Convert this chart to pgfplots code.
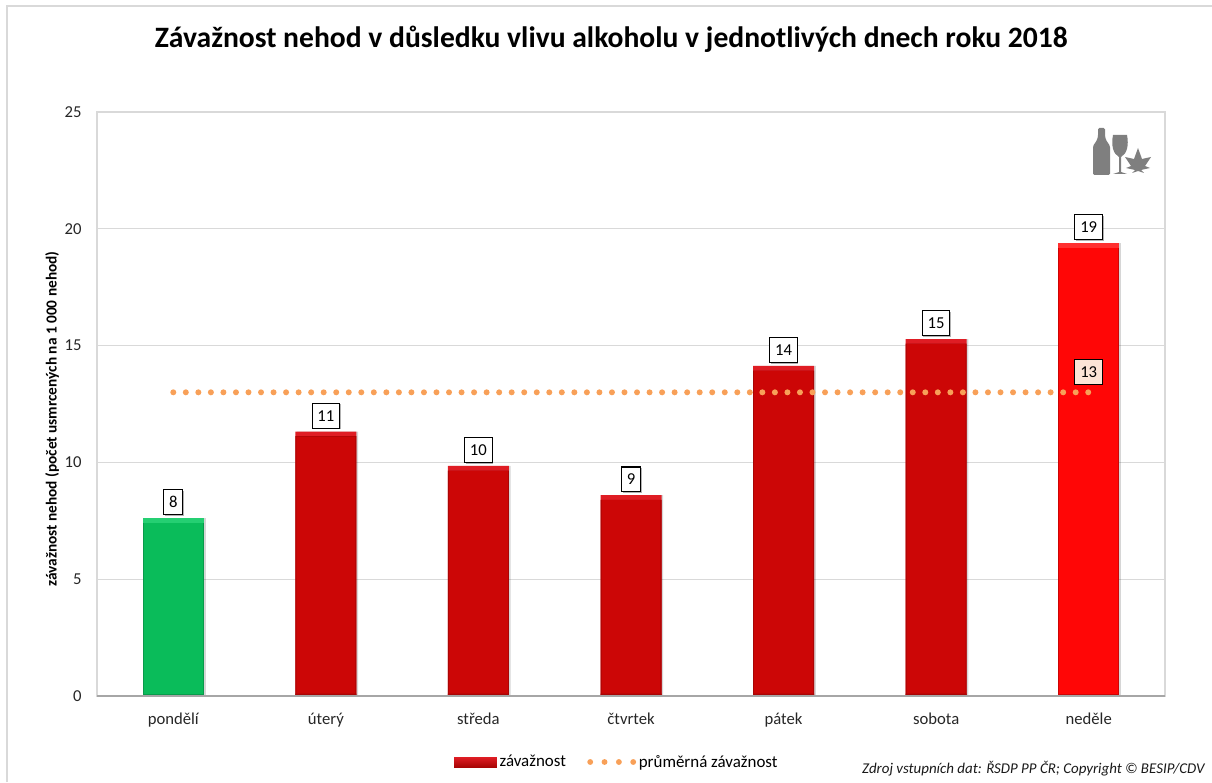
\documentclass[border=0pt]{standalone}
\usepackage{fontspec}
\setmainfont{Carlito}
\usepackage{pgfplots}
\pgfplotsset{compat=1.18}
\usepackage{pgfplotstable}
\usetikzlibrary{shadows}
\definecolor{gridc}{HTML}{D9D9D9}
\definecolor{framec}{HTML}{D9D9D9}
\definecolor{basec}{HTML}{A6A6A6}
\definecolor{redm}{HTML}{CC0606}
\definecolor{redl}{HTML}{DF1D24}
\definecolor{redd}{HTML}{A80505}
\definecolor{brightm}{HTML}{FF0606}
\definecolor{brightl}{HTML}{FF3030}
\definecolor{brightd}{HTML}{CC0505}
\definecolor{greenm}{HTML}{0ABC5A}
\definecolor{greenl}{HTML}{25CF72}
\definecolor{greend}{HTML}{099A4B}
\definecolor{dotc}{HTML}{F79646}
\definecolor{peach}{HTML}{FCE4D6}
\definecolor{iconc}{HTML}{7F7F7F}
\pgfplotstableread{
x v
0 7.62
}\greentab
\pgfplotstableread{
x v
1 11.32
2 9.85
3 8.6
4 14.13
5 15.28
}\redtab
\pgfplotstableread{
x v
6 19.39
}\brighttab
\newcommand{\bevelbar}[4]{%
  \addplot[ybar,bar shift=1.3pt,bar width=45.75pt,draw=none,fill=black,fill opacity=0.16,forget plot] table[x=x,y=v] {#1};
  \addplot[ybar,bar shift=0pt,bar width=45.75pt,draw=none,fill=#3,forget plot] table[x=x,y=v] {#1};
  \addplot[ybar,bar shift=0pt,bar width=45.75pt,draw=none,fill=#4,forget plot] table[x=x,y expr=\thisrow{v}-0.2] {#1};
  \addplot[ybar,bar shift=0pt,bar width=44.2pt,draw=none,fill=#2,forget plot] table[x=x,y expr=\thisrow{v}-0.22] {#1};
  \addplot[ybar,bar shift=0pt,bar width=45.75pt,draw=none,fill=#4,forget plot] table[x=x,y expr=0.1] {#1};
}
\begin{document}
\begin{tikzpicture}
\useasboundingbox (0,0) rectangle (909pt,586.5pt);
\begin{scope}[x=0.75pt,y=-0.75pt,yshift=586.5pt]
\draw[framec,line width=0.9pt] (7,782) -- (7,6) -- (1212,6);
\end{scope}
\begin{axis}[
  at={(72.75pt,64.5pt)},anchor=south west,
  width=801pt,height=438pt,scale only axis,
  xmin=-0.5,xmax=6.5,ymin=0,ymax=25,
  xtick={0,...,6},
  xticklabels={pondělí,úterý,středa,čtvrtek,pátek,sobota,neděle},
  ytick={0,5,...,25},
  major tick length=0pt,
  ymajorgrids,
  grid style={gridc,line width=0.75pt},
  axis line style={gridc,line width=0.9pt},
  /pgf/number format/assume math mode=true,
  tick label style={font=\fontsize{12.5}{15}\selectfont,text=black!85},
  xticklabel style={yshift=-9.5pt},
  yticklabel style={xshift=-8pt},
  title={Závažnost nehod v důsledku vlivu alkoholu v jednotlivých dnech roku 2018},
  title style={font=\fontsize{22.2}{26}\selectfont\bfseries,at={(0.4815,1)},anchor=center,yshift=48.8pt},
  ylabel={závažnost nehod (počet usmrcených na 1 000 nehod)},
  ylabel style={font=\fontsize{11.5}{13}\selectfont\bfseries,at={(axis description cs:-0.042,0.474)},anchor=center},
  legend style={at={(axis description cs:0.3305,-0.113)},anchor=west,draw=none,fill=none,
    legend columns=2,font=\fontsize{12.7}{15}\selectfont,/tikz/column 2/.style={column sep=14pt}},
  legend cell align=left,
  clip=false,
]
\bevelbar{\greentab}{greenm}{greenl}{greend}
\bevelbar{\redtab}{redm}{redl}{redd}
\bevelbar{\brighttab}{brightm}{brightl}{brightd}
\addlegendimage{legend image code/.code={
  \shade[top color=redl,bottom color=redd,draw=none] (0pt,-3.75pt) rectangle (32pt,3.75pt);}}
\addlegendentry{závažnost}
\addplot[dotc!90!white,line width=4.5pt,line cap=round,dash pattern=on 0pt off 9.4pt,
  legend image code/.code={
    \foreach \k in {0,10.75,21.5,32.25}{\fill[dotc!90!white,draw=none] (\k pt,0pt) circle (2.2pt);}}]
  coordinates {(0,13) (1,13) (2,13) (3,13) (4,13) (5,13) (6,13)};
\addlegendentry{průměrná závažnost}
\draw[basec,line width=1pt] (axis cs:-0.5,0) -- (axis cs:6.5,0);
\addplot[draw=none,mark=none,forget plot,point meta=explicit symbolic,
  nodes near coords,
  every node near coord/.style={font=\fontsize{12.5}{15}\selectfont,text=black,draw=black,line width=0.8pt,fill=white,
    anchor=south,inner xsep=4pt,inner ysep=0pt,minimum height=18.5pt,yshift=2.2pt,
    drop shadow={shadow xshift=0.8pt,shadow yshift=-0.8pt,opacity=0.3,fill=black}}]
  coordinates {(0,7.62)[8] (1,11.32)[11] (2,9.85)[10] (3,8.6)[9] (4,14.13)[14] (5,15.28)[15] (6,19.39)[19]};
\addplot[draw=none,mark=none,forget plot,point meta=explicit symbolic,
  nodes near coords,
  every node near coord/.style={font=\fontsize{12.5}{15}\selectfont,text=black,draw=black,line width=0.8pt,fill=peach,
    anchor=south,inner xsep=4pt,inner ysep=0pt,minimum height=18.5pt,yshift=5.8pt}]
  coordinates {(6,13)[13]};
\end{axis}
\begin{scope}[x=0.75pt,y=-0.75pt,yshift=586.5pt]
\node[anchor=east,inner sep=0pt,font=\fontsize{11.2}{13}\selectfont\itshape,text=black!90] at (1205,769)
  {Zdroj vstupních dat: ŘSDP PP ČR; Copyright © BESIP/CDV};
% icon: bottle
\fill[iconc,rounded corners=1pt] (1098,128) -- (1105,128) -- (1105,136) -- (1106,140) -- (1110,146) -- (1110,175) -- (1093,175) -- (1093,146) -- (1097,140) -- (1098,136) -- cycle;
% glass
\fill[iconc] (1113,135) -- (1127,135) .. controls (1129,145) and (1127,154) .. (1121,157) -- (1121,172) -- (1127,174) -- (1113,174) -- (1119,172) -- (1119,157) .. controls (1113,154) and (1111,145) .. (1113,135) -- cycle;
% leaf
\fill[iconc] (1138,148) -- (1142,159) -- (1151,157) -- (1145,166) -- (1150,168) -- (1141,170) -- (1144,173) -- (1138,171) -- (1132,173) -- (1135,170) -- (1126,168) -- (1131,166) -- (1125,157) -- (1134,159) -- cycle;
\end{scope}
\end{tikzpicture}
\end{document}
